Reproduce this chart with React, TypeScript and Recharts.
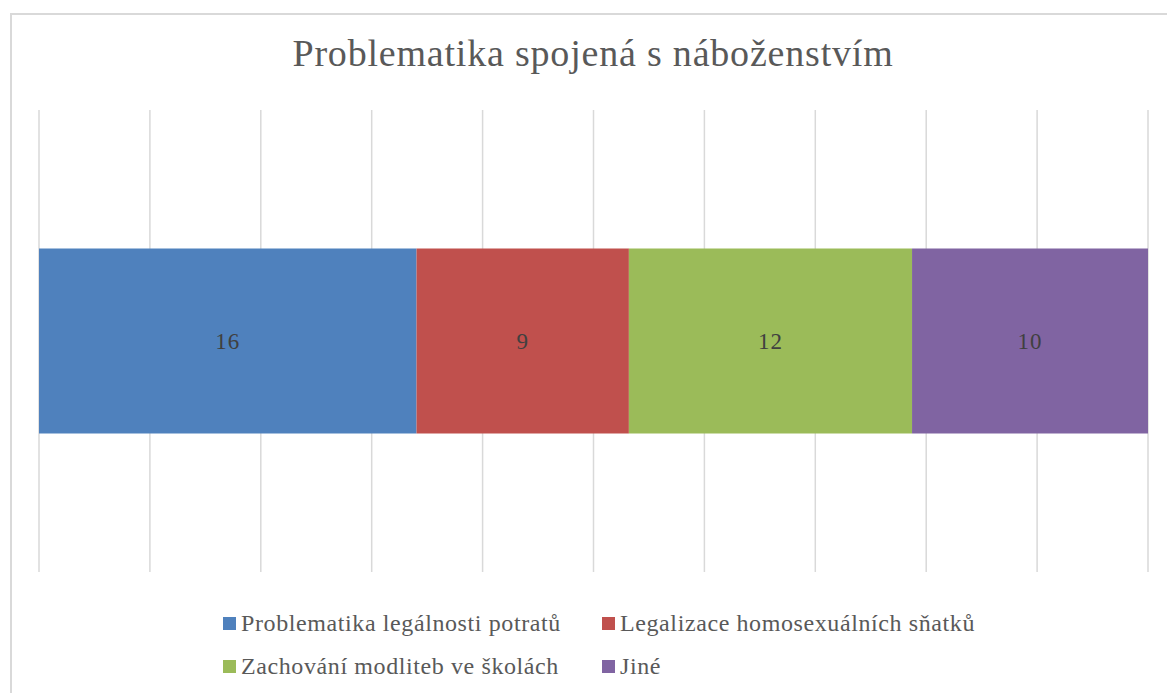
import React from 'react';
import { BarChart, Bar, XAxis, YAxis, CartesianGrid, LabelList } from 'recharts';

const TITLE = 'Problematika spojená s náboženstvím';
const SERIES_KEYS = ['potraty', 'snatky', 'modlitby', 'jine'];
const SERIES_NAMES = [
  'Problematika legálnosti potratů',
  'Legalizace homosexuálních sňatků',
  'Zachování modliteb ve školách',
  'Jiné'
];
const SERIES_VALUES = [16, 9, 12, 10];
const SERIES_COLORS = ['#4f81bd', '#c0504d', '#9bbb59', '#8064a2'];
const GRID_TICKS = [0, 0.1, 0.2, 0.3, 0.4, 0.5, 0.6, 0.7, 0.8, 0.9, 1];

const FONT = '"Liberation Serif", "DejaVu Serif", serif';

const row: Record<string, string | number> = { name: 'Problematika' };
SERIES_KEYS.forEach((k, i) => {
  row[k] = SERIES_VALUES[i];
});
const data = [row];

const LegendItem = ({ color, label }: { color: string; label: string }) => (
  <div style={{ display: 'flex', alignItems: 'center', height: 26 }}>
    <span style={{ width: 13, height: 13, background: color, marginRight: 5, display: 'inline-block', flexShrink: 0 }} />
    <span>{label}</span>
  </div>
);

export default function App() {
  return (
    <div style={{ position: 'absolute', left: 0, top: 0, width: 1167, height: 693, overflow: 'hidden', background: '#fff', fontFamily: FONT }}>
      <div style={{ position: 'absolute', left: 10, top: 13, width: 1166, height: 700, border: '2px solid #d9d9d9', boxSizing: 'border-box' }} />
      <div style={{ position: 'absolute', left: 10, top: 31, width: 1166, textAlign: 'center', fontSize: 38, letterSpacing: 0.8, color: '#595959' }}>
        {TITLE}
      </div>
      <div style={{ position: 'absolute', left: 0, top: 0 }}>
        <BarChart
          width={1167}
          height={693}
          data={data}
          layout="vertical"
          stackOffset="expand"
          barCategoryGap="30%"
          margin={{ top: 110, right: 19, bottom: 121, left: 39 }}
        >
          <CartesianGrid horizontal={false} stroke="#d9d9d9" strokeWidth={1.5} />
          <XAxis type="number" domain={[0, 1]} ticks={GRID_TICKS} hide />
          <YAxis type="category" dataKey="name" hide />
          {SERIES_KEYS.map((k, i) => (
            <Bar key={k} dataKey={k} name={SERIES_NAMES[i]} stackId="a" fill={SERIES_COLORS[i]} isAnimationActive={false}>
              <LabelList dataKey={k} position="center" fill="#404040" fontSize={23} letterSpacing={1} fontFamily={FONT} />
            </Bar>
          ))}
        </BarChart>
      </div>
      <div
        style={{
          position: 'absolute',
          left: 223,
          top: 610,
          display: 'grid',
          gridTemplateColumns: '379px auto',
          rowGap: 17,
          fontSize: 24,
          letterSpacing: 0.6,
          color: '#595959'
        }}
      >
        {SERIES_NAMES.map((n, i) => (
          <LegendItem key={n} color={SERIES_COLORS[i]} label={n} />
        ))}
      </div>
    </div>
  );
}
